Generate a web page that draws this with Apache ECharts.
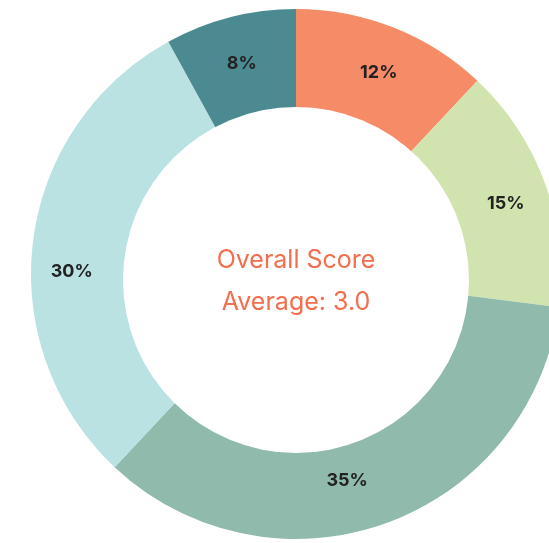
<!DOCTYPE html>
<html>
<head>
<meta charset="utf-8">
<script src="https://cdn.jsdelivr.net/npm/echarts@6/dist/echarts.min.js"></script>
<style>
  html, body { margin: 0; padding: 0; background: #fff; }
  #chart { width: 549px; height: 543px; }
</style>
</head>
<body>
<div id="chart"></div>
<script>
const categories = ['A', 'B', 'C', 'D', 'E'];
const shares = [12, 15, 35, 30, 8];
const sliceColors = ['#F68B68', '#D1E4AF', '#90BAAC', '#BBE2E3', '#4C8A92'];
const centerTitle = 'Overall Score';
const centerSub = 'Average: 3.0';

// a couple of labels sit a bit off their slice middle in the original
const labelNudge = { D: [-5, 20], C: [-25, -7] };

const chart = echarts.init(document.getElementById('chart'));

const font = 'Inter, "Liberation Sans", Arial, sans-serif';

chart.setOption({
  animation: false,
  graphic: [
    {
      type: 'text',
      x: 296,
      y: 260,
      z: 10,
      style: {
        text: centerTitle,
        textAlign: 'center',
        textVerticalAlign: 'middle',
        fill: '#F26E4C',
        font: '25px ' + font,
      },
    },
    {
      type: 'text',
      x: 296,
      y: 302,
      z: 10,
      style: {
        text: centerSub,
        textAlign: 'center',
        textVerticalAlign: 'middle',
        fill: '#F26E4C',
        font: '25px ' + font,
      },
    },
  ],
  series: [
    {
      // coloured ring
      type: 'pie',
      center: [296, 274],
      radius: [150, 265],
      startAngle: 90,
      silent: true,
      label: { show: false },
      labelLine: { show: false },
      data: categories.map((name, i) => ({
        name,
        value: shares[i],
        itemStyle: { color: sliceColors[i] },
      })),
    },
    {
      // hole, sits a touch lower than the ring
      type: 'pie',
      center: [296, 280],
      radius: [0, 173],
      silent: true,
      z: 3,
      label: { show: false },
      labelLine: { show: false },
      data: [{ value: 1, itemStyle: { color: '#fff' } }],
    },
    {
      // percentage labels
      type: 'pie',
      center: [297, 279],
      radius: [173, 265],
      startAngle: 90,
      silent: true,
      z: 4,
      avoidLabelOverlap: false,
      itemStyle: { color: 'rgba(0,0,0,0)' },
      label: {
        show: true,
        position: 'inside',
        formatter: '{c}%',
        color: '#222',
        fontWeight: 'bold',
        fontSize: 18,
        fontFamily: font,
      },
      labelLine: { show: false },
      data: categories.map((name, i) => ({
        name,
        value: shares[i],
        label: labelNudge[name] ? { offset: labelNudge[name] } : {},
      })),
    },
  ],
});
</script>
</body>
</html>
